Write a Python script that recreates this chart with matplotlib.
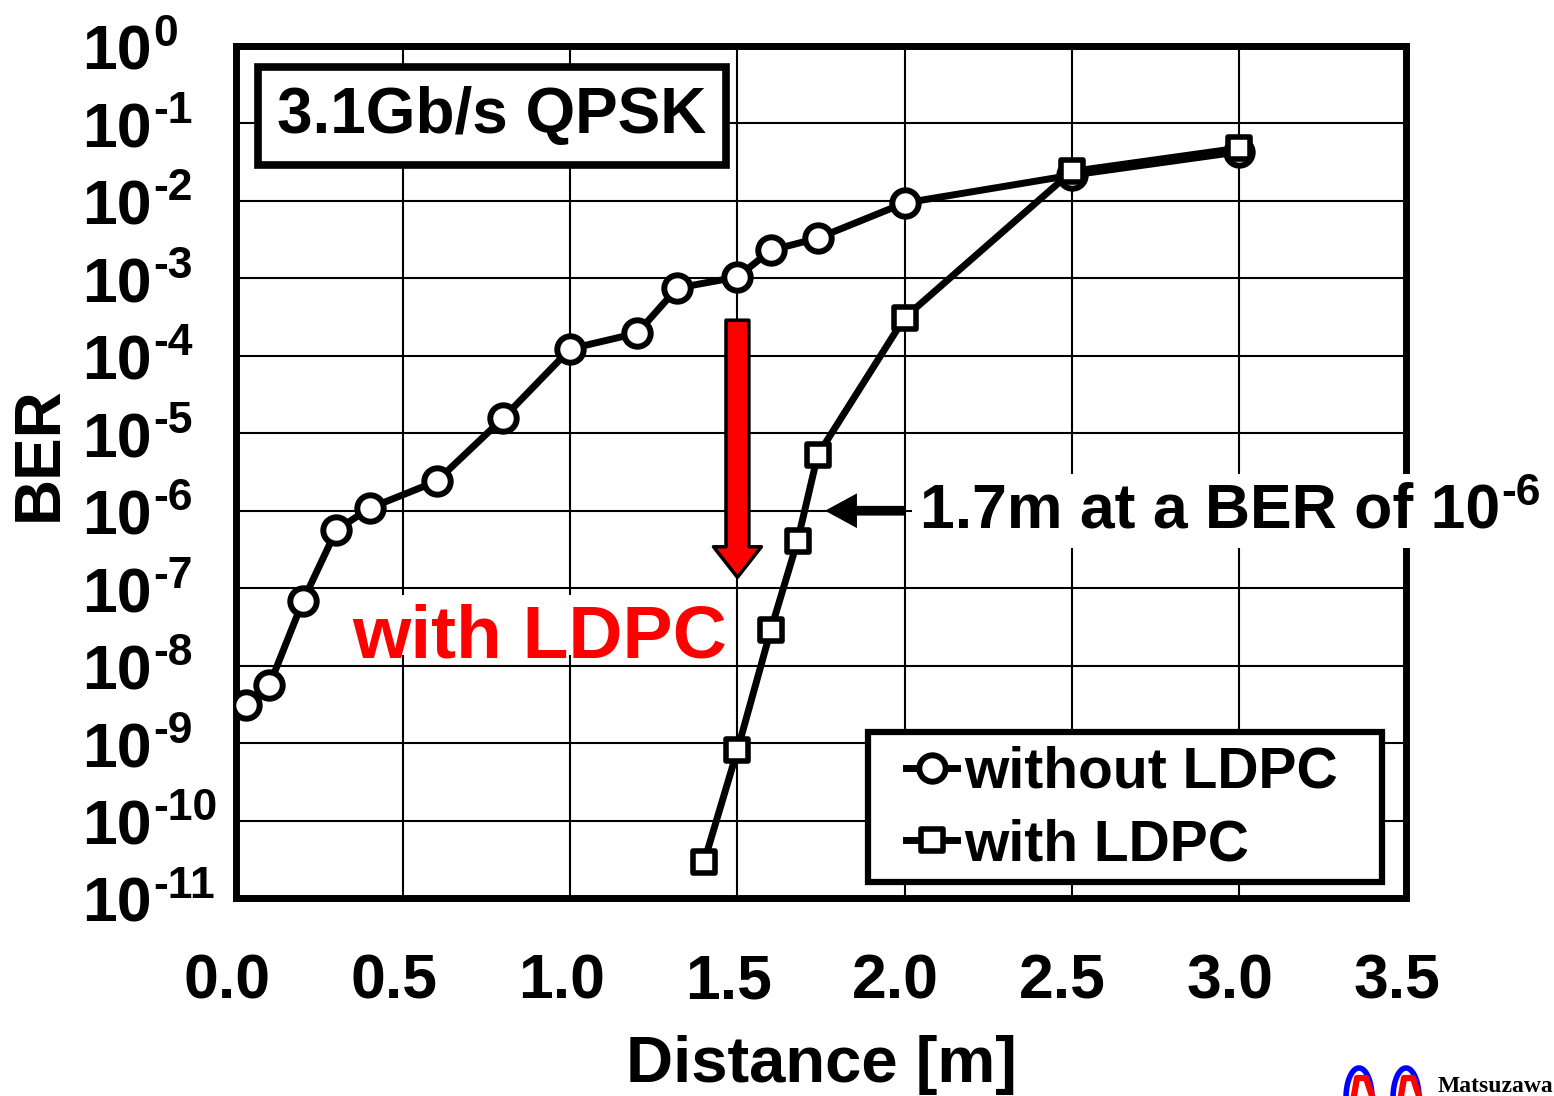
import numpy as np
import matplotlib.pyplot as plt
import matplotlib.transforms as mtransforms
from matplotlib.markers import MarkerStyle
from matplotlib.patches import Rectangle
from matplotlib.ticker import NullLocator

plt.rcParams['font.family'] = ['Liberation Sans', 'DejaVu Sans']
plt.rcParams['font.weight'] = 'bold'
plt.rcParams['axes.labelweight'] = 'bold'

# BER vs distance, without LDPC (circles)
dist_plain = [0.03, 0.1, 0.2, 0.3, 0.4, 0.6, 0.8, 1.0, 1.2, 1.32, 1.5, 1.6, 1.74, 2.0, 2.5, 3.0]
ber_plain = [3.1e-9, 5.6e-9, 6.8e-8, 5.6e-7, 1.08e-6, 2.4e-6, 1.58e-5, 1.23e-4, 1.96e-4,
             7.5e-4, 1.04e-3, 2.3e-3, 3.3e-3, 9.4e-3, 2.15e-2, 4.3e-2]

# BER vs distance, with LDPC (squares)
dist_ldpc = [1.4, 1.5, 1.6, 1.68, 1.74, 2.0, 2.5, 3.0]
ber_ldpc = [2.9e-11, 8.1e-10, 2.9e-8, 4.1e-7, 5.2e-6, 3.1e-4, 2.4e-2, 4.8e-2]

xticks = [0.0, 0.5, 1.0, 1.5, 2.0, 2.5, 3.0, 3.5]
xticklabels = ['0.0', '0.5', '1.0', '1.5', '2.0', '2.5', '3.0', '3.5']
decades = list(range(0, -12, -1))

W, H = 1554, 1096
fig = plt.figure(figsize=(W / 100, H / 100), dpi=100)
ax = fig.add_axes([236 / W, 1 - 898 / H, 1170 / W, 852 / H])

ax.set_yscale('log')
ax.set_xlim(0, 3.5)
ax.set_ylim(1e-11, 1)
ax.set_axisbelow(True)
ax.grid(True, color='black', lw=1.5)
for sp in ax.spines.values():
    sp.set_linewidth(5)

ax.plot(dist_plain, ber_plain, '-', color='black', lw=5, marker='o', ms=19,
        mfc='white', mec='black', mew=4.3, label='without LDPC', zorder=3)
ax.plot(dist_ldpc, ber_ldpc, '-', color='black', lw=5,
        marker=MarkerStyle('s', joinstyle='round'), ms=16,
        mfc='white', mec='black', mew=4, label='with LDPC', zorder=3)

# x ticks
ax.set_xticks(xticks)
ax.set_xticklabels(xticklabels)
ax.tick_params(axis='both', length=0)
ax.tick_params(axis='x', labelsize=45, pad=39)
shift = mtransforms.ScaledTranslation(-9 / 100, 0, fig.dpi_scale_trans)
for lbl in ax.get_xticklabels():
    lbl.set_transform(lbl.get_transform() + shift)

# y ticks: 10 with raised exponent, left aligned
ax.set_yticks([10.0 ** d for d in decades])
ax.set_yticklabels([])
ax.yaxis.set_minor_locator(NullLocator())
ytrans = mtransforms.blended_transform_factory(fig.transFigure, ax.transData) + \
    mtransforms.ScaledTranslation(0, -24 / 100, fig.dpi_scale_trans)
for d in decades:
    base = ax.text(82 / W, 10.0 ** d, '10', transform=ytrans, ha='left', va='baseline',
                   fontsize=45, clip_on=False)
    ax.annotate(str(d), xy=(1, 0), xycoords=base, xytext=(1, 27),
                textcoords='offset points', ha='left', va='baseline', fontsize=32,
                annotation_clip=False)

fig.text(40 / W, 1 - 454 / H, 'BER', rotation=90, ha='center', va='center', fontsize=46)
ax.set_xlabel('Distance [m]', fontsize=47, labelpad=17)

# title box
fig.text(492 / W, 1 - 116 / H, '3.1Gb/s QPSK', ha='center', va='center', fontsize=46,
         bbox=dict(boxstyle='square,pad=0.3', fc='white', ec='black', lw=5.5))

# red "with LDPC" arrow and label
ax.annotate('', xy=(1.5, 10 ** -6.86), xytext=(1.5, 10 ** -3.54),
            arrowprops=dict(arrowstyle='simple,head_length=2.2,head_width=3.45,tail_width=1.65',
                            mutation_scale=10, fc='red', ec='black', lw=2.5,
                            shrinkA=0, shrinkB=0), zorder=4)
ax.add_patch(Rectangle((0.097, 0.285), 0.32, 0.071, transform=ax.transAxes,
                       fc='white', ec='none', zorder=2))
ax.text(0.347, 10 ** -7.90, 'with LDPC', color='red', fontsize=54, ha='left', va='baseline',
        zorder=4)

# 1.7 m annotation
ax.annotate('', xy=(1.762, 1e-6), xytext=(2.0, 1e-6),
            arrowprops=dict(arrowstyle='simple,head_length=2.3,head_width=2.5,tail_width=0.7',
                            mutation_scale=10, fc='black', ec='black', lw=0,
                            shrinkA=0, shrinkB=0), zorder=4)
note = ax.text(2.046, 10 ** -6.223, '1.7m at a BER of 10', fontsize=45, ha='left',
               va='baseline', clip_on=False, zorder=6,
               bbox=dict(boxstyle='square,pad=0.12', fc='white', ec='none'))
ax.annotate('-6', xy=(1, 0), xycoords=note, xytext=(1, 26), textcoords='offset points',
            ha='left', va='baseline', fontsize=32, annotation_clip=False, zorder=6)

# legend with custom frame
ax.add_patch(Rectangle((0.540, 0.0188), 0.4395, 0.176, transform=ax.transAxes,
                       fc='white', ec='black', lw=4.5, zorder=4.5))
ax.legend(loc='upper left', bbox_to_anchor=((906 - 236) / 1170, (898 - 746) / 852),
          frameon=False, borderpad=0, borderaxespad=0, handlelength=0.9,
          handletextpad=0.12, labelspacing=0.32, numpoints=1, fontsize=41).set_zorder(5)

# small logo, bottom right
t = np.linspace(0, np.pi, 30)
for x0 in (1346, 1393):
    fig.add_artist(plt.Line2D((x0 + 13 - 13 * np.cos(t)) / W, (H - 1098 + 30 * np.sin(t)) / H,
                              color='blue', lw=4))
    fig.add_artist(plt.Line2D(np.array([x0 + 8, x0 + 11, x0 + 20, x0 + 26]) / W,
                              (H - np.array([1096, 1078, 1078, 1096])) / H,
                              color='red', lw=4.5))
fig.text(1438 / W, 1 - 1092 / H, 'Matsuzawa', family='Liberation Serif', fontsize=17,
         ha='left', va='baseline')

fig.savefig('out.png', dpi=100)
